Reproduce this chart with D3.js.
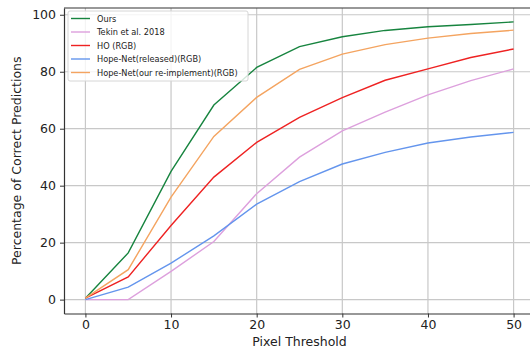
<!DOCTYPE html>
<html>
<head>
<meta charset="utf-8">
<script src="https://cdn.jsdelivr.net/npm/d3@7"></script>
<style>
  body { margin: 0; background: #fff; }
  svg { display: block; font-family: "DejaVu Sans", sans-serif; }
</style>
</head>
<body>
<svg id="chart"></svg>
<script>
let width = 530;
let height = 350;

// thresholds in pixels
let thresholds = [0, 5, 10, 15, 20, 25, 30, 35, 40, 45, 50];

let ours = [0.5, 16.4, 45, 68.3, 81.5, 88.8, 92.3, 94.5, 95.8, 96.6, 97.5];
let tekin = [0, 0, 9.9, 20.4, 37.2, 50, 59.2, 65.8, 71.9, 76.9, 81];
let ho = [0.5, 8, 26, 43, 55.2, 64, 70.9, 77, 81, 85, 88];
let hopeReleased = [0, 4.4, 12.8, 22.4, 33.5, 41.4, 47.6, 51.7, 55, 57.1, 58.7];
let hopeOurs = [0.5, 10.5, 36, 57.3, 71, 80.8, 86.2, 89.5, 91.8, 93.4, 94.6];

let seriesNames = ['Ours', 'Tekin et al. 2018', 'HO (RGB)', 'Hope-Net(released)(RGB)', 'Hope-Net(our re-implement)(RGB)'];
let seriesColors = ['#17843f', '#dda0dd', '#ee2222', '#6495ed', '#f4a460'];
let seriesValues = [ours, tekin, ho, hopeReleased, hopeOurs];

let xTicks = [0, 10, 20, 30, 40, 50];
let yTicks = [0, 20, 40, 60, 80, 100];

let plotLeft = 64, plotRight = 535, plotTop = 8, plotBottom = 313.5;

let xScale = d3.scaleLinear().domain([-2.5, 52.5]).range([plotLeft, plotRight]);
let yScale = d3.scaleLinear().domain([-4.875, 102.375]).range([plotBottom, plotTop]);

let svg = d3.select('#chart').attr('width', width).attr('height', height);

// grid
svg.append('g')
  .selectAll('line')
  .data(xTicks)
  .enter()
  .append('line')
  .attr('x1', d => xScale(d)).attr('x2', d => xScale(d))
  .attr('y1', plotTop).attr('y2', plotBottom)
  .attr('stroke', '#c8c8c8').attr('stroke-width', 1.2);

svg.append('g')
  .selectAll('line')
  .data(yTicks)
  .enter()
  .append('line')
  .attr('x1', plotLeft).attr('x2', plotRight)
  .attr('y1', d => yScale(d)).attr('y2', d => yScale(d))
  .attr('stroke', '#c8c8c8').attr('stroke-width', 1.2);

// lines
let line = d3.line()
  .x((d, i) => xScale(thresholds[i]))
  .y(d => yScale(d));

svg.append('g')
  .selectAll('path')
  .data(seriesValues)
  .enter()
  .append('path')
  .attr('d', d => line(d))
  .attr('fill', 'none')
  .attr('stroke', (d, i) => seriesColors[i])
  .attr('stroke-width', 1.4);

// axes
let xAxis = d3.axisBottom(xScale).tickValues(xTicks).tickSize(4).tickSizeOuter(0).tickPadding(3);
let yAxis = d3.axisLeft(yScale).tickValues(yTicks).tickSize(4).tickSizeOuter(0).tickPadding(4);

let gx = svg.append('g').attr('transform', `translate(0,${plotBottom})`).call(xAxis);
let gy = svg.append('g').attr('transform', `translate(${plotLeft},0)`).call(yAxis);

[gx, gy].forEach(g => {
  g.select('.domain').attr('stroke', '#333').attr('stroke-width', 1.2);
  g.selectAll('.tick line').attr('stroke', '#333');
  g.selectAll('.tick text')
    .attr('font-family', 'DejaVu Sans')
    .attr('font-size', 12.5)
    .attr('fill', '#222');
});

// top spine
svg.append('line')
  .attr('x1', plotLeft).attr('x2', plotRight)
  .attr('y1', plotTop).attr('y2', plotTop)
  .attr('stroke', '#333').attr('stroke-width', 1.2);

// axis labels
svg.append('text')
  .attr('x', (plotLeft + plotRight) / 2)
  .attr('y', 346)
  .attr('text-anchor', 'middle')
  .attr('font-size', 12.5)
  .attr('fill', '#222')
  .text('Pixel Threshold');

svg.append('text')
  .attr('transform', `translate(21,${(plotTop + plotBottom) / 2}) rotate(-90)`)
  .attr('text-anchor', 'middle')
  .attr('font-size', 12.5)
  .attr('fill', '#222')
  .text('Percentage of Correct Predictions');

// legend
let legend = svg.append('g').attr('transform', 'translate(68,11)');

legend.append('rect')
  .attr('width', 180).attr('height', 70)
  .attr('rx', 2)
  .attr('fill', 'rgba(255,255,255,0.8)')
  .attr('stroke', '#d6d6d6');

let items = legend.selectAll('g.item')
  .data(seriesNames)
  .enter()
  .append('g')
  .attr('class', 'item')
  .attr('transform', (d, i) => `translate(0,${7.5 + i * 13.5})`);

items.append('line')
  .attr('x1', 3).attr('x2', 22)
  .attr('stroke', (d, i) => seriesColors[i])
  .attr('stroke-width', 1.4);

items.append('text')
  .attr('x', 29)
  .attr('y', 3)
  .attr('font-size', 8.2)
  .attr('fill', '#222')
  .text(d => d);
</script>
</body>
</html>
